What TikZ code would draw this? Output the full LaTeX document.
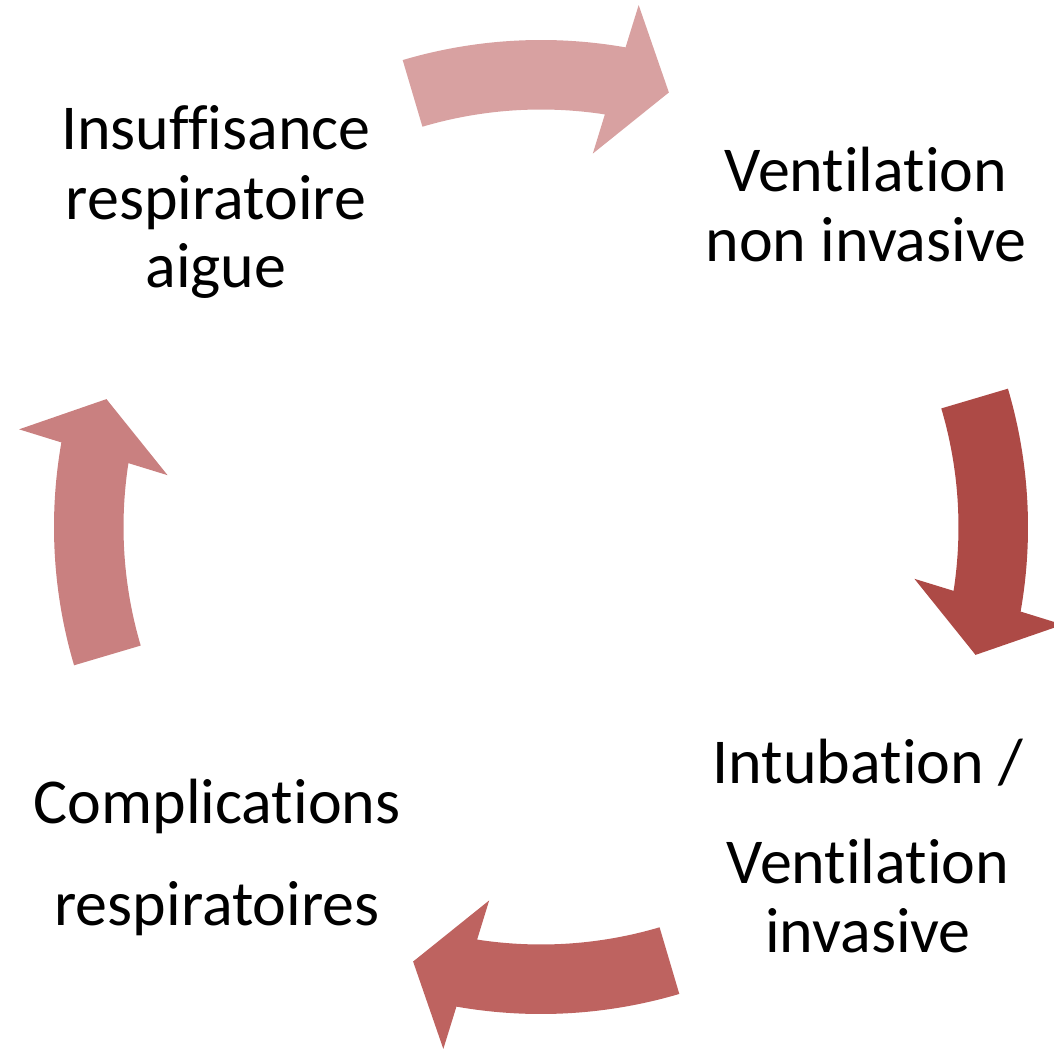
\documentclass[tikz,border=0pt]{standalone}
\usepackage{fontspec}
\setmainfont{Carlito}[Ligatures=NoCommon]
\definecolor{arrA}{HTML}{D8A1A1}
\definecolor{arrB}{HTML}{AD4A46}
\definecolor{arrC}{HTML}{BE6360}
\definecolor{arrD}{HTML}{C98080}
\newcommand\cycarrow[2]{%
  \fill[#2] ({#1+16.5}:4.87) arc[start angle={#1+16.5}, end angle={#1-10}, radius=4.87]
    -- ({#1-10.6}:5.31) -- ({#1-16.4}:4.53) -- ({#1-7.9}:3.77) -- ({#1-8.8}:4.175)
    arc[start angle={#1-8.8}, end angle={#1+16.5}, radius=4.175] -- cycle;}
\begin{document}
\begin{tikzpicture}[lbl/.style={anchor=base, inner sep=0pt, font=\fontsize{18.2pt}{20pt}\selectfont}]
\useasboundingbox (-5.41,-5.21) rectangle (5.13,5.27);
\cycarrow{90}{arrA}
\cycarrow{0}{arrB}
\cycarrow{-90}{arrC}
\cycarrow{180}{arrD}
\node[lbl] (a1) at (-3.25,3.77) {Insuffisance};
\node[lbl] (a2) at (-3.25,3.07) {respiratoire};
\node[lbl] (a3) at (-3.25,2.39) {aigue};
\node[lbl] (b1) at (3.25,3.35) {Ventilation};
\node[lbl] (b2) at (3.25,2.65) {non invasive};
\node[lbl] (c1) at (3.27,-2.56) {Intubation /};
\node[lbl] (c2) at (3.27,-3.56) {Ventilation};
\node[lbl] (c3) at (3.27,-4.25) {invasive};
\node[lbl] (d1) at (-3.24,-2.96) {Complications};
\node[lbl] (d2) at (-3.24,-3.98) {respiratoires};
\end{tikzpicture}
\end{document}
